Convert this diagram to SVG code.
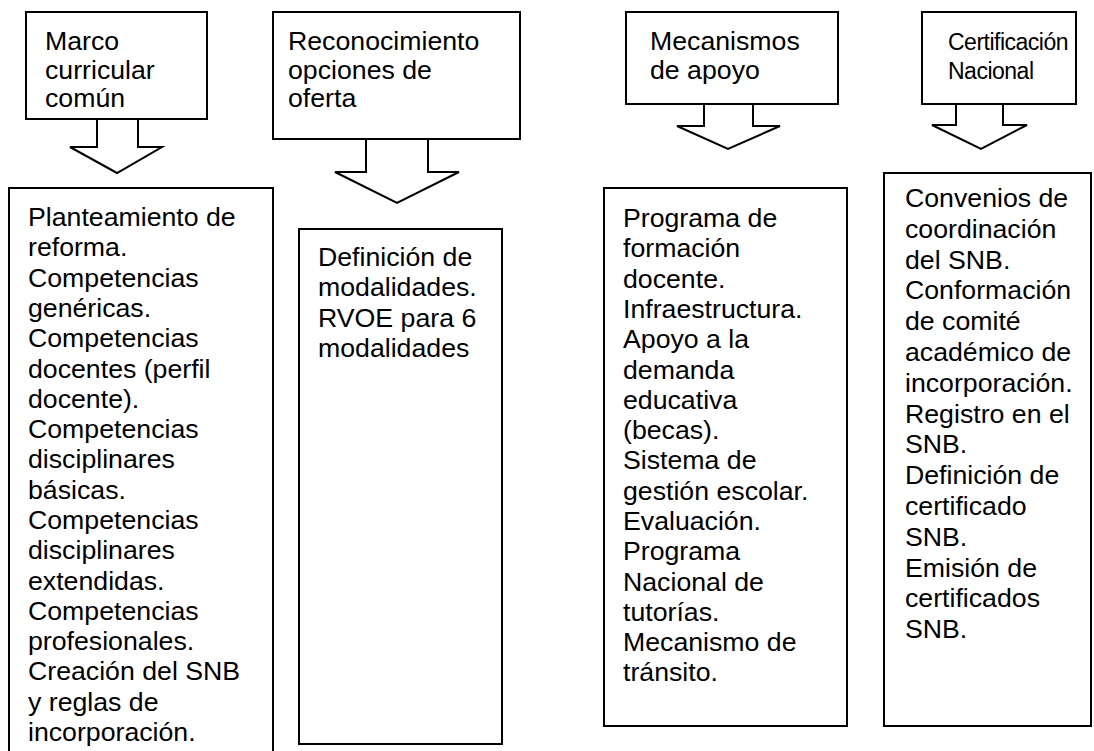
<svg xmlns="http://www.w3.org/2000/svg" width="1094" height="751" viewBox="0 0 1094 751">
<style>
.box{fill:#fff;stroke:#000;stroke-width:2}
.arr{fill:#fff;stroke:#000;stroke-width:2;stroke-linejoin:miter}
text{font-family:"Liberation Sans",Arial,sans-serif;font-size:26.7px;fill:#000}
.cond{font-size:23px;letter-spacing:-0.5px}
</style>
<rect width="1094" height="751" fill="#fff"/>
<g id="marco">
<rect class="box" x="26" y="12" width="181" height="107"/>
<text x="45" y="50">Marco<tspan x="45" dy="28.5">curricular</tspan><tspan x="45" dy="28.5">común</tspan></text>
</g>
<g id="reconocimiento">
<rect class="box" x="273" y="12" width="247" height="127"/>
<text x="288" y="50">Reconocimiento<tspan x="288" dy="28.5">opciones de</tspan><tspan x="288" dy="28.5">oferta</tspan></text>
</g>
<g id="mecanismos">
<rect class="box" x="626" y="12" width="212" height="92"/>
<text x="650" y="50">Mecanismos<tspan x="650" dy="28.5">de apoyo</tspan></text>
</g>
<g id="certificacion">
<rect class="box" x="922" y="12" width="154" height="92"/>
<text class="cond" x="948" y="50">Certificación<tspan x="948" dy="28.5">Nacional</tspan></text>
</g>
<g id="connectors">
<polygon class="arr" points="97,119 97,147 70,147 117,173 162,147 138,147 138,119"/>
<polygon class="arr" points="366,139 366,172 335,172 397,203 459,172 428,172 428,139"/>
<polygon class="arr" points="704,104 704,126 677,126 728,149 780,126 753,126 753,104"/>
<polygon class="arr" points="956,104 956,125 932,125 981,149 1027,125 1003,125 1003,104"/>
</g>
<g id="marco-detalle">
<rect class="box" x="9" y="188" width="264" height="580"/>
<text x="28" y="226">Planteamiento de<tspan x="28" dy="30.3">reforma.</tspan><tspan x="28" dy="30.3">Competencias</tspan><tspan x="28" dy="30.3">genéricas.</tspan><tspan x="28" dy="30.3">Competencias</tspan><tspan x="28" dy="30.3">docentes (perfil</tspan><tspan x="28" dy="30.3">docente).</tspan><tspan x="28" dy="30.3">Competencias</tspan><tspan x="28" dy="30.3">disciplinares</tspan><tspan x="28" dy="30.3">básicas.</tspan><tspan x="28" dy="30.3">Competencias</tspan><tspan x="28" dy="30.3">disciplinares</tspan><tspan x="28" dy="30.3">extendidas.</tspan><tspan x="28" dy="30.3">Competencias</tspan><tspan x="28" dy="30.3">profesionales.</tspan><tspan x="28" dy="30.3">Creación del SNB</tspan><tspan x="28" dy="30.3">y reglas de</tspan><tspan x="28" dy="30.3">incorporación.</tspan></text>
</g>
<g id="reconocimiento-detalle">
<rect class="box" x="299" y="229" width="203" height="515"/>
<text x="318" y="266">Definición de<tspan x="318" dy="30.3">modalidades.</tspan><tspan x="318" dy="30.3">RVOE para 6</tspan><tspan x="318" dy="30.3">modalidades</tspan></text>
</g>
<g id="mecanismos-detalle">
<rect class="box" x="604" y="188" width="243" height="538"/>
<text x="623" y="227">Programa de<tspan x="623" dy="30.3">formación</tspan><tspan x="623" dy="30.3">docente.</tspan><tspan x="623" dy="30.3">Infraestructura.</tspan><tspan x="623" dy="30.3">Apoyo a la</tspan><tspan x="623" dy="30.3">demanda</tspan><tspan x="623" dy="30.3">educativa</tspan><tspan x="623" dy="30.3">(becas).</tspan><tspan x="623" dy="30.3">Sistema de</tspan><tspan x="623" dy="30.3">gestión escolar.</tspan><tspan x="623" dy="30.3">Evaluación.</tspan><tspan x="623" dy="30.3">Programa</tspan><tspan x="623" dy="30.3">Nacional de</tspan><tspan x="623" dy="30.3">tutorías.</tspan><tspan x="623" dy="30.3">Mecanismo de</tspan><tspan x="623" dy="30.3">tránsito.</tspan></text>
</g>
<g id="certificacion-detalle">
<rect class="box" x="884" y="173" width="207" height="553"/>
<text x="905" y="207">Convenios de<tspan x="905" dy="30.8">coordinación</tspan><tspan x="905" dy="30.8">del SNB.</tspan><tspan x="905" dy="30.8">Conformación</tspan><tspan x="905" dy="30.8">de comité</tspan><tspan x="905" dy="30.8">académico de</tspan><tspan x="905" dy="30.8">incorporación.</tspan><tspan x="905" dy="30.8">Registro en el</tspan><tspan x="905" dy="30.8">SNB.</tspan><tspan x="905" dy="30.8">Definición de</tspan><tspan x="905" dy="30.8">certificado</tspan><tspan x="905" dy="30.8">SNB.</tspan><tspan x="905" dy="30.8">Emisión de</tspan><tspan x="905" dy="30.8">certificados</tspan><tspan x="905" dy="30.8">SNB.</tspan></text>
</g>
</svg>
